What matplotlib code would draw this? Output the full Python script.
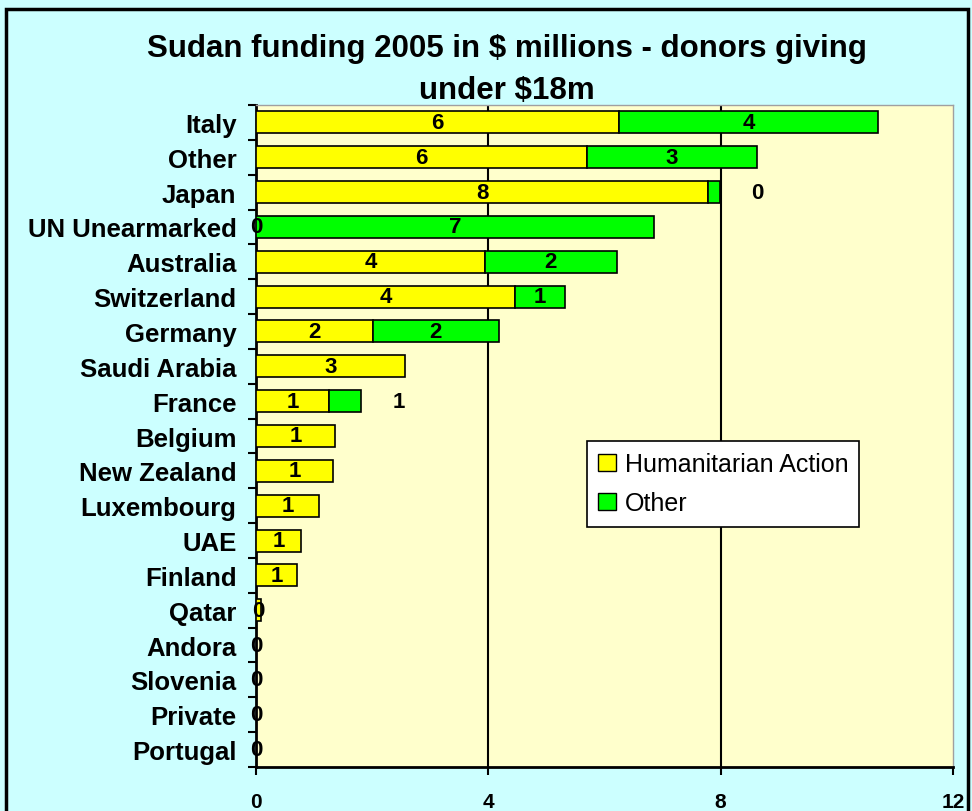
import numpy as np
import matplotlib
matplotlib.use("Agg")
import matplotlib.pyplot as plt
from matplotlib.patches import Rectangle, Patch

plt.rcParams['font.family'] = ['Liberation Sans', 'DejaVu Sans']

categories = ["Italy", "Other", "Japan", "UN Unearmarked", "Australia", "Switzerland",
              "Germany", "Saudi Arabia", "France", "Belgium", "New Zealand", "Luxembourg",
              "UAE", "Finland", "Qatar", "Andora", "Slovenia", "Private", "Portugal"]
humanitarian = [6.25, 5.70, 7.78, 0.0, 3.94, 4.46, 2.01, 2.56, 1.26, 1.36, 1.33, 1.08,
                0.77, 0.71, 0.08, 0.0, 0.0, 0.0, 0.0]
other = [4.46, 2.92, 0.20, 6.85, 2.27, 0.86, 2.17, np.nan, 0.55, np.nan, np.nan, np.nan,
         np.nan, np.nan, np.nan, np.nan, np.nan, np.nan, np.nan]
xticks = [0, 4, 8, 12]
title = "Sudan funding 2005 in $ millions - donors giving\nunder $18m"

YELLOW = "#FFFF00"
GREEN = "#00FF00"
BG = "#CCFFFF"
PLOT_BG = "#FFFFCC"

fig = plt.figure(figsize=(9.72, 8.12), dpi=100, facecolor=BG)
ax = fig.add_axes([256/972, 1-768/812, (953-256)/972, (768-106)/812])
ax.set_facecolor(PLOT_BG)

y = np.arange(len(categories))
h = np.array(humanitarian)
o = np.array(other)
ax.barh(y, h, height=0.63, color=YELLOW, edgecolor="black", linewidth=1.2, zorder=3,
        label="Humanitarian Action")
ax.barh(y, o, left=h, height=0.63, color=GREEN, edgecolor="black", linewidth=1.2, zorder=3,
        label="Other")

lab_kw = dict(ha="center", va="center", fontsize=16, fontweight="bold", zorder=5)
for i in range(len(categories)):
    ax.text(h[i] / 2, y[i], f"{h[i]:.0f}", **lab_kw)
    if not np.isnan(o[i]):
        if o[i] < 0.6:
            ax.text(h[i] + o[i] + 0.65, y[i], f"{o[i]:.0f}", **lab_kw)
        else:
            ax.text(h[i] + o[i] / 2, y[i], f"{o[i]:.0f}", **lab_kw)

ax.set_xlim(0, 12)
ax.set_ylim(len(categories) - 0.5, -0.5)
ax.set_xticks(xticks)
ax.set_xticklabels([str(t) for t in xticks], fontsize=15, fontweight="bold")
ax.tick_params(axis="x", direction="out", length=6, width=1.5, pad=12)
ax.set_yticks(np.arange(len(categories) + 1) - 0.5)
ax.set_yticklabels([])
ax.set_yticks(y, minor=True)
ax.set_yticklabels(categories, minor=True, fontsize=18.5, fontweight="bold")
ax.tick_params(axis="y", which="major", direction="out", length=6, width=1.5)
ax.tick_params(axis="y", which="minor", length=0, pad=14)

for gx in [4, 8]:
    ax.axvline(gx, color="black", linewidth=1.5, zorder=1)

for s in ["left", "bottom"]:
    ax.spines[s].set_linewidth(2)
    ax.spines[s].set_color("black")
for s in ["top", "right"]:
    ax.spines[s].set_color("#A0A0A0")
    ax.spines[s].set_linewidth(1)

fig.text(507/972, 1 - 70/812, title, ha="center", va="center", fontsize=22.5,
         fontweight="bold", linespacing=1.55)

handles = [Patch(facecolor=YELLOW, edgecolor="black", label="Humanitarian Action"),
           Patch(facecolor=GREEN, edgecolor="black", label="Other")]
leg = ax.legend(handles=handles, loc="upper left",
                bbox_to_anchor=((587-256)/697, 1-(442-106)/662),
                fontsize=18, frameon=True, fancybox=False, edgecolor="black",
                handlelength=0.7, handleheight=0.7, handletextpad=0.35,
                borderpad=0.45, labelspacing=0.6, framealpha=1,
                borderaxespad=0)
leg.get_frame().set_linewidth(1.2)

fig.patches.append(Rectangle((6/972, -0.05), (968-6)/972, 1.05 - 10/812,
                             transform=fig.transFigure, fill=False,
                             edgecolor="black", linewidth=2.5))

fig.savefig("out.png", dpi=100, facecolor=BG)
